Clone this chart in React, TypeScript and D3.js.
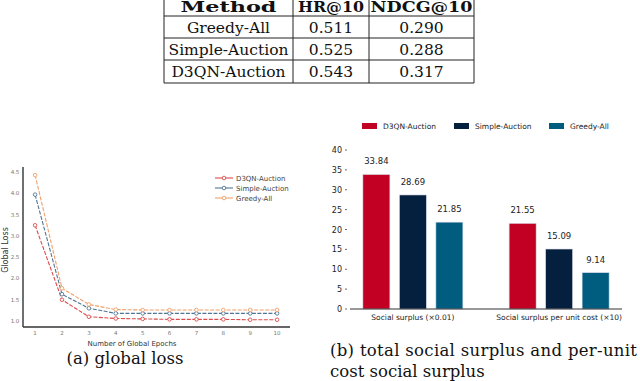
import React from 'react';
import * as d3 from 'd3';

// table
const tableHeader = ['Method', 'HR@10', 'NDCG@10'];
const tableHeaderWidths = [96, 66, 102];
const tableRows = [
  ['Greedy-All', '0.511', '0.290'],
  ['Simple-Auction', '0.525', '0.288'],
  ['D3QN-Auction', '0.543', '0.317'],
];

// (a) global loss
const epochs = [1, 2, 3, 4, 5, 6, 7, 8, 9, 10];
const lossD3QN = [3.25, 1.5, 1.1, 1.06, 1.05, 1.04, 1.04, 1.04, 1.03, 1.03];
const lossSimple = [3.97, 1.63, 1.3, 1.18, 1.18, 1.18, 1.18, 1.18, 1.18, 1.18];
const lossGreedy = [4.43, 1.77, 1.39, 1.27, 1.26, 1.26, 1.26, 1.26, 1.26, 1.26];
const lossTicks = [1.0, 1.5, 2.0, 2.5, 3.0, 3.5, 4.0, 4.5];
const lossSeries = [
  { name: 'D3QN-Auction', values: lossD3QN, color: '#dc4b4b' },
  { name: 'Simple-Auction', values: lossSimple, color: '#4f7594' },
  { name: 'Greedy-All', values: lossGreedy, color: '#f0a06a' },
];

// (b) social surplus
const surplusCategories = ['Social surplus (\u00d70.01)', 'Social surplus per unit cost (\u00d710)'];
const surplusSeriesNames = ['D3QN-Auction', 'Simple-Auction', 'Greedy-All'];
const surplusD3QN = [33.84, 21.55];
const surplusSimple = [28.69, 15.09];
const surplusGreedy = [21.85, 9.14];
const surplusTicks = [0, 5, 10, 15, 20, 25, 30, 35, 40];
const surplusColors = ['#c20024', '#05203e', '#005d80'];

const serif = "'DejaVu Serif', serif";
const sans = "'DejaVu Sans', sans-serif";

const Table = () => {
  const colX = [164, 293, 369, 474];
  const rowY = [-10, 16, 38, 60, 83];
  const baselines = [12, 33, 55, 77];
  return (
    <g>
      {colX.map((x, i) => (
        <line key={'c' + i} x1={x} x2={x} y1={-10} y2={83} stroke="#222" strokeWidth={1} />
      ))}
      {rowY.slice(1).map((y, i) => (
        <line key={'r' + i} x1={164} x2={474} y1={y} y2={y} stroke="#222" strokeWidth={1} />
      ))}
      {tableHeader.map((cell, ci) => (
        <text
          key={'h' + ci}
          x={(colX[ci] + colX[ci + 1]) / 2}
          y={baselines[0]}
          textAnchor="middle"
          fontFamily={serif}
          fontSize={14}
          fontWeight="bold"
          fill="#111"
          textLength={tableHeaderWidths[ci]}
          lengthAdjust="spacingAndGlyphs"
        >
          {cell}
        </text>
      ))}
      {tableRows.map((row, ri) =>
        row.map((cell, ci) => (
          <text
            key={ri + '-' + ci}
            x={(colX[ci] + colX[ci + 1]) / 2}
            y={baselines[ri + 1]}
            textAnchor="middle"
            fontFamily={serif}
            fontSize={15.5}
            fill="#111"
          >
            {cell}
          </text>
        ))
      )}
    </g>
  );
};

const LossChart = () => {
  const x = d3.scaleLinear().domain([0.55, 10.48]).range([23, 290]);
  const y = d3.scaleLinear().domain([0.86, 4.62]).range([327, 167]);
  const line = d3
    .line<number>()
    .x((_, i) => x(epochs[i]))
    .y((d) => y(d));
  return (
    <g>
      {lossTicks.map((t) => (
        <text key={t} x={15} y={y(t) + 2} textAnchor="middle" fontFamily={sans} fontSize={5.5} fill="#777">
          {t.toFixed(1)}
        </text>
      ))}
      {epochs.map((e) => (
        <text key={e} x={x(e)} y={335} textAnchor="middle" fontFamily={sans} fontSize={5.5} fill="#777">
          {e}
        </text>
      ))}
      {lossSeries.map((s) => (
        <g key={s.name}>
          <path d={line(s.values) || ''} fill="none" stroke={s.color} strokeWidth={1.1} strokeDasharray="4,1.5" />
          {s.values.map((v, i) => (
            <circle key={i} cx={x(epochs[i])} cy={y(v)} r={1.8} fill="#fff" stroke={s.color} strokeWidth={0.9} />
          ))}
        </g>
      ))}
      <line x1={23} x2={23} y1={167} y2={327} stroke="#333" strokeWidth={1.4} />
      <line x1={23} x2={290} y1={327} y2={327} stroke="#333" strokeWidth={1.4} />
      <text
        transform="translate(8,250) rotate(-90)"
        textAnchor="middle"
        fontFamily={sans}
        fontSize={8}
        fill="#333"
      >
        Global Loss
      </text>
      <text x={132} y={346} textAnchor="middle" fontFamily={sans} fontSize={7} fill="#333">
        Number of Global Epochs
      </text>
      {lossSeries.map((s, i) => (
        <g key={'lg' + s.name} transform={`translate(0,${178 + i * 10})`}>
          <line x1={215} x2={233} y1={0} y2={0} stroke={s.color} strokeWidth={1.1} />
          <circle cx={224} cy={0} r={1.8} fill="#fff" stroke={s.color} strokeWidth={0.9} />
          <text x={236} y={2.5} fontFamily={sans} fontSize={7} fill="#444">
            {s.name}
          </text>
        </g>
      ))}
    </g>
  );
};

const SurplusChart = () => {
  const values = [surplusD3QN, surplusSimple, surplusGreedy];
  const x0 = d3.scalePoint<string>().domain(surplusCategories).range([350, 622]).padding(0.43);
  const x1 = d3.scaleBand<string>().domain(surplusSeriesNames).range([-50, 50]).paddingInner(0.26).paddingOuter(0);
  const y = d3.scaleLinear().domain([0, 40]).range([309, 150]);
  const legendX = [362, 454, 549];
  return (
    <g>
      {surplusSeriesNames.map((n, i) => (
        <g key={'lg' + n}>
          <rect x={legendX[i]} y={123} width={15} height={6} fill={surplusColors[i]} />
          <text x={legendX[i] + 21} y={129} fontFamily={sans} fontSize={7.5} fill="#222">
            {n}
          </text>
        </g>
      ))}
      {surplusTicks.map((t) => (
        <g key={t}>
          <text x={342} y={y(t) + 3} textAnchor="end" fontFamily={sans} fontSize={8} fill="#222">
            {t}
          </text>
          <line x1={345} x2={347} y1={y(t)} y2={y(t)} stroke="#444" strokeWidth={0.8} />
        </g>
      ))}
      {surplusCategories.map((c, ci) => (
        <g key={c}>
          {surplusSeriesNames.map((n, si) => {
            const v = values[si][ci];
            const bx = (x0(c) || 0) + (x1(n) || 0);
            return (
              <g key={n}>
                <rect
                  x={bx}
                  y={y(v)}
                  width={x1.bandwidth()}
                  height={y(0) - y(v)}
                  fill={surplusColors[si]}
                  stroke="#dde"
                  strokeWidth={0.6}
                />
                <text
                  x={bx + x1.bandwidth() / 2}
                  y={y(v) - 10}
                  textAnchor="middle"
                  fontFamily={sans}
                  fontSize={8.5}
                  fill="#222"
                >
                  {v.toFixed(2)}
                </text>
              </g>
            );
          })}
          <text x={x0(c)} y={320} textAnchor="middle" fontFamily={sans} fontSize={7.5} fill="#222">
            {c}
          </text>
        </g>
      ))}
      <line x1={350} x2={622} y1={309} y2={309} stroke="#333" strokeWidth={1} />
    </g>
  );
};

const App = () => {
  return (
    <svg
      width={640}
      height={381}
      viewBox="0 0 640 381"
      style={{ position: 'absolute', left: 0, top: 0, background: '#fff' }}
    >
      <rect width={640} height={381} fill="#fff" />
      <Table />
      <LossChart />
      <SurplusChart />
      <text x={125} y={364} textAnchor="middle" fontFamily={serif} fontSize={16.5} fill="#111">
        (a) global loss
      </text>
      <text x={330} y={356} fontFamily={serif} fontSize={16.5} fill="#111" textLength={307} lengthAdjust="spacing">
        (b) total social surplus and per-unit
      </text>
      <text x={330} y={377} fontFamily={serif} fontSize={16.5} fill="#111">
        cost social surplus
      </text>
    </svg>
  );
};

export default App;
